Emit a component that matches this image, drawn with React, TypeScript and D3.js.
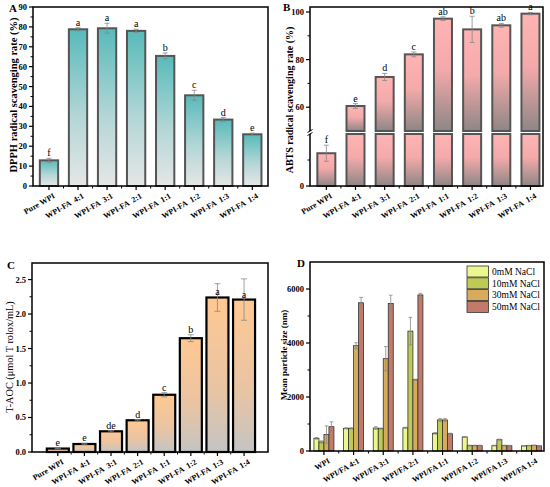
import React, { useRef, useEffect } from 'react';
import * as d3 from 'd3';

// ── Data ──────────────────────────────────────────────────────────────────────
const ratioCats = ['Pure WPI', 'WPI-FA  4:1', 'WPI-FA  3:1', 'WPI-FA  2:1', 'WPI-FA  1:1', 'WPI-FA  1:2', 'WPI-FA  1:3', 'WPI-FA  1:4'];

const dpphValues = [12.9, 78.8, 79.3, 78.0, 65.4, 45.6, 33.4, 26.0];
const dpphErr = [1.0, 0.8, 2.5, 0.8, 1.5, 2.5, 1.0, 0.6];
const dpphLetters = ['f', 'a', 'a', 'a', 'b', 'c', 'd', 'e'];
const dpphTicks = [0, 10, 20, 30, 40, 50, 60, 70, 80, 90];

const abtsValues = [12.6, 60.5, 72.7, 82.2, 97.2, 92.7, 94.4, 99.3];
const abtsErr = [3.1, 1.0, 1.5, 1.0, 0.8, 5.5, 0.8, 0.5];
const abtsLetters = ['f', 'e', 'd', 'c', 'ab', 'b', 'ab', 'a'];
const abtsTicksUpper = [60, 80, 100];
const abtsTicksLower = [0];

const taocValues = [0.05, 0.116, 0.30, 0.46, 0.83, 1.65, 2.24, 2.21];
const taocErr = [0.005, 0.01, 0.01, 0.01, 0.03, 0.05, 0.2, 0.3];
const taocLetters = ['e', 'e', 'de', 'd', 'c', 'b', 'a', 'a'];
const taocTicks = [0, 0.5, 1.0, 1.5, 2.0, 2.5];

const sizeCats = ['WPI', 'WPI/FA 4:1', 'WPI/FA 3:1', 'WPI/FA 2:1', 'WPI/FA 1:1', 'WPI/FA 1:2', 'WPI/FA 1:3', 'WPI/FA 1:4'];
const saltSeries = ['0mM NaCl', '10mM NaCl', '30mM NaCl', '50mM NaCl'];
const nacl0 = [470, 840, 850, 860, 655, 520, 200, 190];
const nacl10 = [335, 840, 830, 4440, 1150, 200, 420, 200];
const nacl30 = [610, 3900, 3420, 2640, 1150, 200, 200, 210];
const nacl50 = [900, 5490, 5460, 5780, 640, 200, 195, 190];
const err0 = [30, 20, 50, 20, 30, 15, 15, 10];
const err10 = [40, 20, 20, 510, 50, 15, 20, 10];
const err30 = [320, 110, 450, 20, 50, 15, 15, 10];
const err50 = [180, 200, 310, 60, 20, 15, 15, 10];
const sizeTicks = [0, 2000, 4000, 6000];

const saltColors = ['#ecf78e', '#bfca55', '#d7aa5c', '#c27a6a'];

const FONT = "'Liberation Serif', 'Times New Roman', Times, serif";

type G = d3.Selection<SVGGElement, unknown, null, undefined>;

// ── Helpers ───────────────────────────────────────────────────────────────────
function frame(g: G, l: number, t: number, r: number, b: number) {
  g.append('rect').attr('x', l).attr('y', t).attr('width', r - l).attr('height', b - t)
    .attr('fill', 'none').attr('stroke', '#000').attr('stroke-width', 1.5);
}

function yTicks(g: G, x: number, y: d3.ScaleLinear<number, number>, major: number[], minor: number[], fmt: (v: number) => string) {
  major.forEach(v => {
    g.append('line').attr('x1', x - 4).attr('x2', x).attr('y1', y(v)).attr('y2', y(v)).attr('stroke', '#000').attr('stroke-width', 1.2);
    g.append('text').attr('x', x - 6).attr('y', y(v)).attr('dy', '0.35em').attr('text-anchor', 'end')
      .attr('font-size', 8.5).attr('font-weight', 700).attr('font-family', FONT).text(fmt(v));
  });
  minor.forEach(v => {
    g.append('line').attr('x1', x - 2.5).attr('x2', x).attr('y1', y(v)).attr('y2', y(v)).attr('stroke', '#000').attr('stroke-width', 1);
  });
}

function xTicks(g: G, x: d3.ScaleLinear<number, number>, b: number, cats: string[]) {
  cats.forEach((c, i) => {
    const cx = x(i);
    g.append('line').attr('x1', cx).attr('x2', cx).attr('y1', b).attr('y2', b + 4).attr('stroke', '#000').attr('stroke-width', 1.2);
    if (i < cats.length - 1) {
      const mx = x(i + 0.5);
      g.append('line').attr('x1', mx).attr('x2', mx).attr('y1', b).attr('y2', b + 2.5).attr('stroke', '#000').attr('stroke-width', 1);
    }
    g.append('text').attr('transform', `translate(${cx + 5},${b + 9}) rotate(-30)`)
      .attr('text-anchor', 'end').attr('dy', '0.35em')
      .attr('font-size', 8).attr('font-weight', 700).attr('font-family', FONT)
      .style('white-space', 'pre').text(c);
  });
}

function yTitle(g: G, x: number, y: number, text: string, size: number, weight: number) {
  g.append('text').attr('transform', `translate(${x},${y}) rotate(-90)`).attr('text-anchor', 'middle')
    .attr('dy', '0.35em').attr('font-size', size).attr('font-weight', weight).attr('font-family', FONT).text(text);
}

function errBar(g: G, cx: number, yHi: number, yLo: number, cap: number) {
  g.append('line').attr('x1', cx).attr('x2', cx).attr('y1', yHi).attr('y2', yLo).attr('stroke', '#888').attr('stroke-width', 0.8);
  [yHi, yLo].forEach(yy => g.append('line').attr('x1', cx - cap).attr('x2', cx + cap).attr('y1', yy).attr('y2', yy)
    .attr('stroke', '#888').attr('stroke-width', 0.8));
}

function letter(g: G, cx: number, y: number, t: string) {
  g.append('text').attr('x', cx).attr('y', y).attr('text-anchor', 'middle').attr('font-size', 10)
    .attr('font-family', FONT).text(t);
}

function gradient(defs: d3.Selection<SVGDefsElement, unknown, null, undefined>, id: string, stops: [number, string][]) {
  const gr = defs.append('linearGradient').attr('id', id).attr('x1', 0).attr('y1', 0).attr('x2', 0).attr('y2', 1);
  stops.forEach(([o, c]) => gr.append('stop').attr('offset', o).attr('stop-color', c));
}

// ── Chart ─────────────────────────────────────────────────────────────────────
const App: React.FC = () => {
  const svgRef = useRef<SVGSVGElement>(null);

  useEffect(() => {
    if (!svgRef.current) return;
    const svg = d3.select(svgRef.current);
    svg.selectAll('*').remove();
    const defs = svg.append('defs');
    gradient(defs, 'gA', [[0, '#58baba'], [0.55, '#b2d6d6'], [1, '#e6e6e6']]);
    gradient(defs, 'gB', [[0, '#ffb4b4'], [0.45, '#f4aaaa'], [1, '#8e8686']]);
    gradient(defs, 'gC', [[0, '#ffc892'], [0.6, '#e8c4a4'], [1, '#c4c4c4']]);

    const g = svg.append('g') as unknown as G;

    // ── Panel A ───────────────────────────────────────────────────────────────
    {
      const L = 33, T = 7, R = 268, B = 186;
      const x = d3.scaleLinear().domain([-0.55, 7.54]).range([L, R]);
      const y = d3.scaleLinear().domain([0, 90]).range([B, T]);
      const bw = 18.3;
      dpphValues.forEach((v, i) => {
        const cx = x(i);
        g.append('rect').attr('x', cx - bw / 2).attr('y', y(v)).attr('width', bw).attr('height', B - y(v))
          .attr('fill', 'url(#gA)').attr('stroke', '#555').attr('stroke-width', 2);
        errBar(g, cx, y(v + dpphErr[i]), y(v - dpphErr[i]), 2.5);
        letter(g, cx, y(v + dpphErr[i]) - 2, dpphLetters[i]);
      });
      frame(g, L, T, R, B);
      yTicks(g, L, y, dpphTicks, d3.range(5, 90, 10), d => String(d));
      xTicks(g, x, B, ratioCats);
      yTitle(g, 13, 95, 'DPPH radical scavenging rate (%)', 10.5, 700);
      g.append('text').attr('x', 9).attr('y', 12).attr('font-size', 11).attr('font-weight', 700).attr('font-family', FONT).text('A');
    }

    // ── Panel B (broken axis) ─────────────────────────────────────────────────
    {
      const L = 310, T = 7, R = 543, B = 186;
      const x = d3.scaleLinear().domain([-0.56, 7.43]).range([L, R]);
      const yU = d3.scaleLinear().domain([50, 102.1]).range([131, T]);
      const yL = d3.scaleLinear().domain([0, 20]).range([B, 134]);
      const bw = 18;
      abtsValues.forEach((v, i) => {
        const cx = x(i);
        if (v > 20) {
          g.append('rect').attr('x', cx - bw / 2).attr('y', yL(20)).attr('width', bw).attr('height', B - yL(20))
            .attr('fill', 'url(#gB)').attr('stroke', '#555').attr('stroke-width', 2);
          g.append('rect').attr('x', cx - bw / 2).attr('y', yU(v)).attr('width', bw).attr('height', yU(50) - yU(v))
            .attr('fill', 'url(#gB)').attr('stroke', '#555').attr('stroke-width', 2);
          errBar(g, cx, yU(v + abtsErr[i]), yU(v - abtsErr[i]), 2.5);
          letter(g, cx, yU(v + abtsErr[i]) - 2, abtsLetters[i]);
        } else {
          g.append('rect').attr('x', cx - bw / 2).attr('y', yL(v)).attr('width', bw).attr('height', B - yL(v))
            .attr('fill', 'url(#gB)').attr('stroke', '#555').attr('stroke-width', 2);
          errBar(g, cx, yL(v + abtsErr[i]), yL(v - abtsErr[i]), 2.5);
          letter(g, cx, yL(v + abtsErr[i]) - 2, abtsLetters[i]);
        }
      });
      frame(g, L, T, R, B);
      yTicks(g, L, yU, abtsTicksUpper, [70, 90], d => String(d));
      yTicks(g, L, yL, abtsTicksLower, [10], d => String(d));
      // break mark
      g.append('rect').attr('x', L - 4).attr('y', 131.2).attr('width', 8).attr('height', 2.6).attr('fill', '#fff');
      [131, 134].forEach(yy => g.append('line').attr('x1', L - 2.5).attr('x2', L + 2.5).attr('y1', yy + 1.5).attr('y2', yy - 1.5)
        .attr('stroke', '#000').attr('stroke-width', 1));
      xTicks(g, x, B, ratioCats);
      yTitle(g, 289, 100, 'ABTS radical scavenging rate (%)', 10, 700);
      g.append('text').attr('x', 283).attr('y', 11).attr('font-size', 11).attr('font-weight', 700).attr('font-family', FONT).text('B');
    }

    // ── Panel C ───────────────────────────────────────────────────────────────
    {
      const L = 32, T = 263, R = 268, B = 452;
      const x = d3.scaleLinear().domain([-0.97, 7.9]).range([L, R]);
      const y = d3.scaleLinear().domain([0, 2.74]).range([B, T]);
      const bw = 22;
      taocValues.forEach((v, i) => {
        const cx = x(i);
        g.append('rect').attr('x', cx - bw / 2).attr('y', y(v)).attr('width', bw).attr('height', B - y(v))
          .attr('fill', 'url(#gC)').attr('stroke', '#000').attr('stroke-width', 2.2);
        errBar(g, cx, y(v + taocErr[i]), y(v - taocErr[i]), 3);
        letter(g, cx, Math.min(y(v) - 2, y(v + taocErr[i]) - 2 + (taocErr[i] > 0.1 ? 24 : 0)), taocLetters[i]);
      });
      frame(g, L, T, R, B);
      yTicks(g, L, y, taocTicks, d3.range(0.25, 2.75, 0.5), d => d.toFixed(1));
      xTicks(g, x, B, ratioCats);
      yTitle(g, 9, 357, 'T-AOC (μmol T rolox/mL)', 10.3, 400);
      g.append('text').attr('x', 7).attr('y', 269).attr('font-size', 11).attr('font-weight', 700).attr('font-family', FONT).text('C');
    }

    // ── Panel D ───────────────────────────────────────────────────────────────
    {
      const L = 310, T = 262, R = 544, B = 451;
      const x = d3.scaleLinear().domain([-0.47, 7.42]).range([L, R]);
      const y = d3.scaleLinear().domain([0, 7000]).range([B, T]);
      const sub = d3.scaleBand().domain(saltSeries).range([-10, 10]);
      const vals = [nacl0, nacl10, nacl30, nacl50];
      const errs = [err0, err10, err30, err50];
      sizeCats.forEach((_, i) => {
        saltSeries.forEach((s, k) => {
          const v = vals[k][i];
          const bx = x(i) + (sub(s) as number);
          g.append('rect').attr('x', bx).attr('y', y(v)).attr('width', sub.bandwidth()).attr('height', B - y(v))
            .attr('fill', saltColors[k]).attr('stroke', '#333').attr('stroke-width', 0.8);
          errBar(g, bx + sub.bandwidth() / 2, y(v + errs[k][i]), y(v - errs[k][i]), 1.8);
        });
      });
      frame(g, L, T, R, B);
      yTicks(g, L, y, sizeTicks, [1000, 3000, 5000], d => String(d));
      xTicks(g, x, B, sizeCats);
      yTitle(g, 284, 355, 'Mean particle size (nm)', 9, 700);
      g.append('text').attr('x', 297).attr('y', 267).attr('font-size', 11).attr('font-weight', 700).attr('font-family', FONT).text('D');

      // legend
      saltSeries.forEach((s, k) => {
        const ly = 266 + k * 11.8;
        g.append('rect').attr('x', 467).attr('y', ly).attr('width', 21.5).attr('height', 11)
          .attr('fill', saltColors[k]).attr('stroke', '#333').attr('stroke-width', 0.8);
        g.append('text').attr('x', 492).attr('y', ly + 5.5).attr('dy', '0.35em').attr('font-size', 9.5)
          .attr('font-family', FONT).text(s);
      });
    }
  }, []);

  return (
    <svg ref={svgRef} width={550} height={487} style={{ position: 'absolute', left: 0, top: 0, background: '#fff' }} />
  );
};

export default App;
